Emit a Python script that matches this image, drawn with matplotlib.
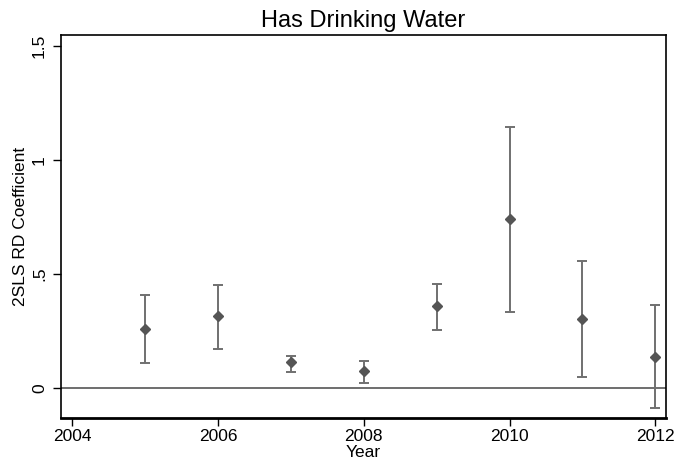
import matplotlib.pyplot as plt
import numpy as np

plt.rcParams['font.family'] = ['Liberation Sans', 'DejaVu Sans']

# 2SLS RD estimates by year with 95% CI bounds
years = [2005, 2006, 2007, 2008, 2009, 2010, 2011, 2012]
coef = [0.256, 0.314, 0.111, 0.075, 0.358, 0.740, 0.301, 0.136]
ci_low = [0.108, 0.171, 0.070, 0.019, 0.254, 0.331, 0.046, -0.088]
ci_high = [0.407, 0.450, 0.139, 0.116, 0.456, 1.143, 0.557, 0.363]

xticks = [2004, 2006, 2008, 2010, 2012]
yticks = [0, 0.5, 1, 1.5]
yticklabels = ['0', '.5', '1', '1.5']

coef = np.array(coef)
err = [coef - np.array(ci_low), np.array(ci_high) - coef]

fig = plt.figure(figsize=(6.94, 4.66), dpi=100)
ax = fig.add_axes([61/694, 1 - 418/466, (666-61)/694, (418-35)/466])

ax.axhline(0, color='#555555', lw=1.2, zorder=1)
ax.errorbar(years, coef, yerr=err, fmt='none', ecolor='#707070',
            elinewidth=1.4, capsize=3.8, capthick=1.4, zorder=2)
ax.plot(years, coef, 'D', color='#555555', ms=5, zorder=3)

ax.set_xlim(2003.845, 2012.147)
ax.set_ylim(-0.133, 1.549)
ax.set_xticks(xticks)
ax.set_yticks(yticks)
ax.set_yticklabels(yticklabels, rotation=90, va='center')
ax.tick_params(direction='out', length=6, width=1, labelsize=12.5, colors='black')
ax.tick_params(axis='y', pad=4)
ax.tick_params(axis='x', pad=2)

for s in ax.spines.values():
    s.set_linewidth(1.2)
ax.spines['bottom'].set_linewidth(2)

ax.set_title('Has Drinking Water', fontsize=17, pad=6)
ax.set_xlabel('Year', fontsize=12.5, labelpad=0.5)
ax.set_ylabel('2SLS RD Coefficient', fontsize=12.5, labelpad=3)

fig.savefig('out.png', dpi=100)
